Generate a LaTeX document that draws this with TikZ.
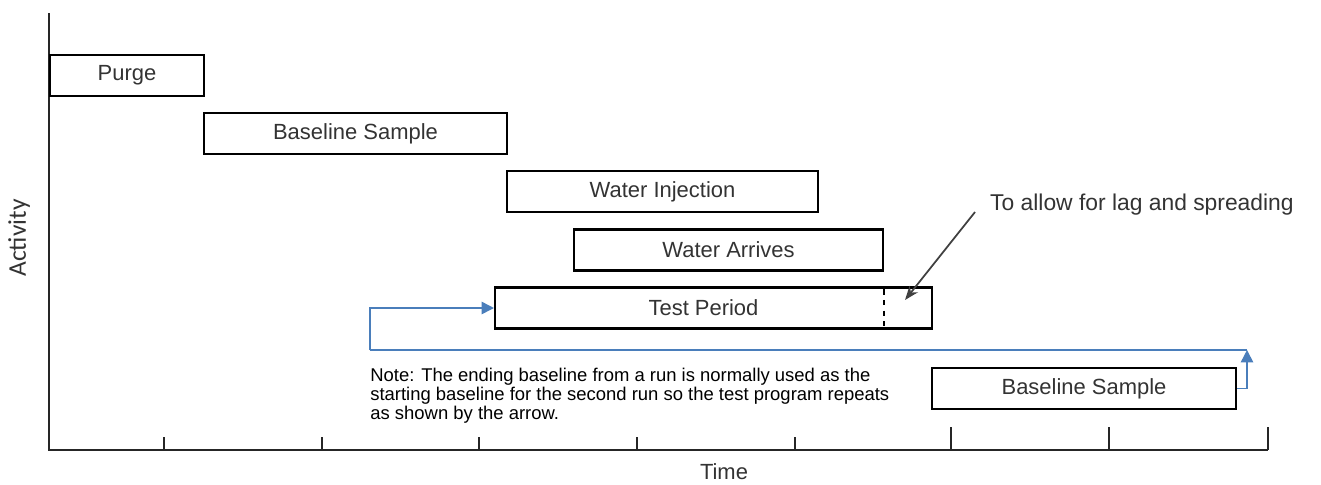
\documentclass[tikz,border=0pt]{standalone}
\usepackage{fontspec}
\setmainfont{Liberation Sans}
\newfontfamily\axisfont{Carlito}
\usepackage{xcolor}
\usepackage{tikz}
\usetikzlibrary{arrows.meta,positioning,calc}
\definecolor{loopblue}{HTML}{4A7EBB}
\definecolor{labelgray}{HTML}{333333}

\begin{document}
\begin{tikzpicture}[
  x=0.02cm, y=-0.02cm,
  phase/.style={draw, line width=1.2pt, minimum height=0.82cm, inner sep=0pt, align=center, font=\fontsize{12.5}{14}\selectfont, text=labelgray},
  axis/.style={line width=1.4pt, black!85},
  tick/.style={line width=1pt, black!85},
  looparr/.style={-{Triangle[length=7pt,width=7pt]}, line width=0.9pt, loopblue},
  looppath/.style={line width=0.9pt, loopblue},
  note/.style={-{Stealth[length=8pt,width=6pt]}, line width=1pt, black!75}
]
  \useasboundingbox (0,0) rectangle (1321,484);
  % axes
  \draw[axis] (49,13) -- (49,450) -- (1268,450);
  \foreach \tx in {164,322,479,637,795}
    \draw[tick] (\tx,450) -- (\tx,437);
  \foreach \tx in {951,1109,1268}
    \draw[tick] (\tx,450) -- (\tx,427);
  \node[font=\axisfont\fontsize{14.5}{16}\selectfont, text=labelgray, rotate=90] (activity) at (19,238) {Activity};
  \node[font=\fontsize{12.5}{14}\selectfont, text=labelgray] (time) at (724,472) {Time};

  % phases
  \node[phase, minimum width=3.08cm] (purge) at (127,75.5) {Purge};
  \node[phase, minimum width=6.06cm] (base1) at (355.5,133.5) {Baseline Sample};
  \node[phase, minimum width=6.22cm] (inject) at (662.5,191.5) {Water Injection};
  \node[phase, minimum width=6.18cm] (arrive) at (728.5,250) {Water Arrives};
  \node[phase, minimum width=8.74cm] (test) at (713.5,308) {\hspace*{-0.4cm}Test Period};
  \node[phase, minimum width=6.08cm] (base2) at (1084,388.5) {Baseline Sample};
  \draw[dashed, line width=0.8pt] ($(test.north east)+(-49,3)$) -- ($(test.south east)+(-49,-3)$);

  % lag annotation
  \node[font=\fontsize{13}{15}\selectfont, text=labelgray, anchor=west] (lag) at (984,205) {To allow for lag and spreading};
  \draw[note] (975,212) -- (905,300);

  % repeat loop
  \coordinate (turn) at (1247,350);
  \coordinate (loopleft) at (370,350);
  \draw[looparr] (base2.east) -| (turn);
  \draw[looppath] (turn) -- (loopleft);
  \draw[looparr] (loopleft) |- (test.west);

  \node[font=\fontsize{10.5}{10.8}\selectfont, align=left, anchor=north west, inner sep=0pt] (remark) at (370,368)
    {Note: The ending baseline from a run is normally used as the\\
     starting baseline for the second run so the test program repeats\\
     as shown by the arrow.};
\end{tikzpicture}
\end{document}
